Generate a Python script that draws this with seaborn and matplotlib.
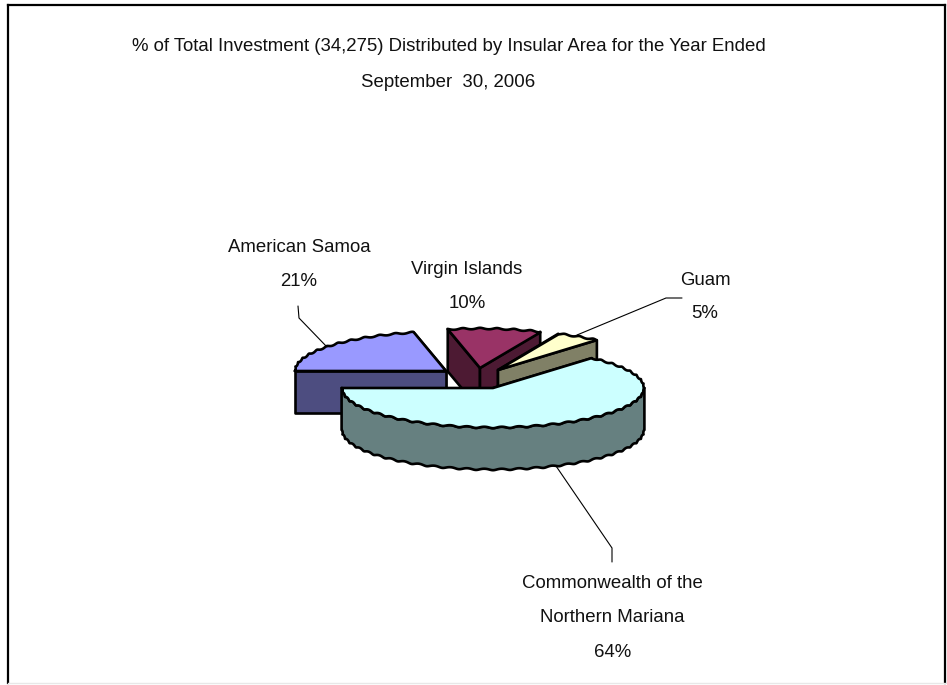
import numpy as np
import matplotlib
matplotlib.use("Agg")
import matplotlib.pyplot as plt
import seaborn as sns

# Share of the total investment by insular area, in pie order (clockwise)
areas = ["American Samoa", "Virgin Islands", "Guam", "Commonwealth of the\nNorthern Mariana"]
shares = [21, 10, 5, 64]
top_colors = ["#9999FF", "#993366", "#FFFFCC", "#CCFFFF"]
side_colors = ["#4D4D80", "#4D1A33", "#808066", "#668080"]
title_lines = ["% of Total Investment (34,275) Distributed by Insular Area for the Year Ended",
               "September  30, 2006"]

sns.set_theme(style="white")
plt.rcParams["font.family"] = ["Liberation Sans", "DejaVu Sans"]

W, H = 947, 685
fig = plt.figure(figsize=(W / 100, H / 100), dpi=100, facecolor="white")
ax = fig.add_axes([8 / W, 1 - 683 / H, 937 / W, 678 / H])
ax.set_xlim(8, 945)
ax.set_ylim(683, 5)
ax.set_xticks([])
ax.set_yticks([])
for name in ("top", "left", "right"):
    ax.spines[name].set_color("black")
    ax.spines[name].set_linewidth(1.6)
ax.spines["bottom"].set_color("#E8E8E8")
ax.spines["bottom"].set_linewidth(1)

# Layout of the tilted pie: exploded centres, radii and extrusion depth
centers = [(446, 371), (480, 368), (498, 370), (493, 388)]
rx, ry, depth = 151, 39.5, 42
START = 180
LW = 1.9
TXT = 13.4


def tilt(t):
    """Slight angular shift from the pie's 3D viewpoint; fixed at the horizontal axis."""
    return t - 2.2 * np.sin(np.radians(t)) ** 2 * (t > 0)


def rim(cx, cy, t0, t1, n=700):
    """Points on the elliptical rim with the small ripple of the printed outline."""
    t = np.radians(np.linspace(t0, t1, n))
    x = cx + rx * np.cos(t) + 0.4 * np.cos(55 * t)
    y = cy - ry * np.sin(t) + 0.7 * np.sin(55 * t)
    return x, y


def poly(x, y, color, z):
    ax.fill(x, y, facecolor=color, edgecolor="black", linewidth=LW, joinstyle="round", zorder=z)


edges = tilt(START - np.cumsum([0] + shares) * 3.6)
for i, (cx, cy) in enumerate(centers):
    t0, t1 = edges[i], edges[i + 1]
    z = 2 + i
    # Cut faces from hub to arc ends, the far one painted first
    ends = [(cx + rx * np.cos(np.radians(t)), cy - ry * np.sin(np.radians(t))) for t in (t0, t1)]
    for ex, ey in sorted(ends, key=lambda p: p[1]):
        poly([cx, ex, ex, cx], [cy, ey, ey + depth, cy + depth], side_colors[i], z)
    # Outer wall, only where the rim faces the viewer
    if t1 < 0:
        x, y = rim(cx, cy, -180, 0)
        poly(np.r_[x, x[::-1]], np.r_[y, y[::-1] + depth], side_colors[i], z)
    # Top surface
    x, y = rim(cx, cy, t0, t1)
    poly(np.r_[cx, x], np.r_[cy, y], top_colors[i], z + 0.5)

# Leader lines from labels to slices
leaders = [([298, 299, 327], [306, 318, 347]),
           ([577, 666, 682], [335, 298, 298]),
           ([556, 612, 612], [466, 548, 562])]
for lx, ly in leaders:
    ax.plot(lx, ly, color="black", linewidth=0.8, zorder=8, solid_joinstyle="miter")

# Titles and slice labels, one placed line at a time
for text, ypos in zip(title_lines, (46.5, 82.5)):
    ax.text(448.5, ypos, text, ha="center", va="center", fontsize=TXT, color="#111111")

label_pos = [(299, 247.5, 34), (467, 269.5, 34), (705, 280.5, 33), (612.5, 583.5, 34.5)]
for name, share, (lx, ly, step) in zip(areas, shares, label_pos):
    lines = name.split("\n") + [f"{share}%"]
    for k, line in enumerate(lines):
        ax.text(lx, ly + k * step, line, ha="center", va="center", fontsize=TXT, color="#111111", zorder=9)

fig.savefig("out.png", dpi=100, facecolor="white")
